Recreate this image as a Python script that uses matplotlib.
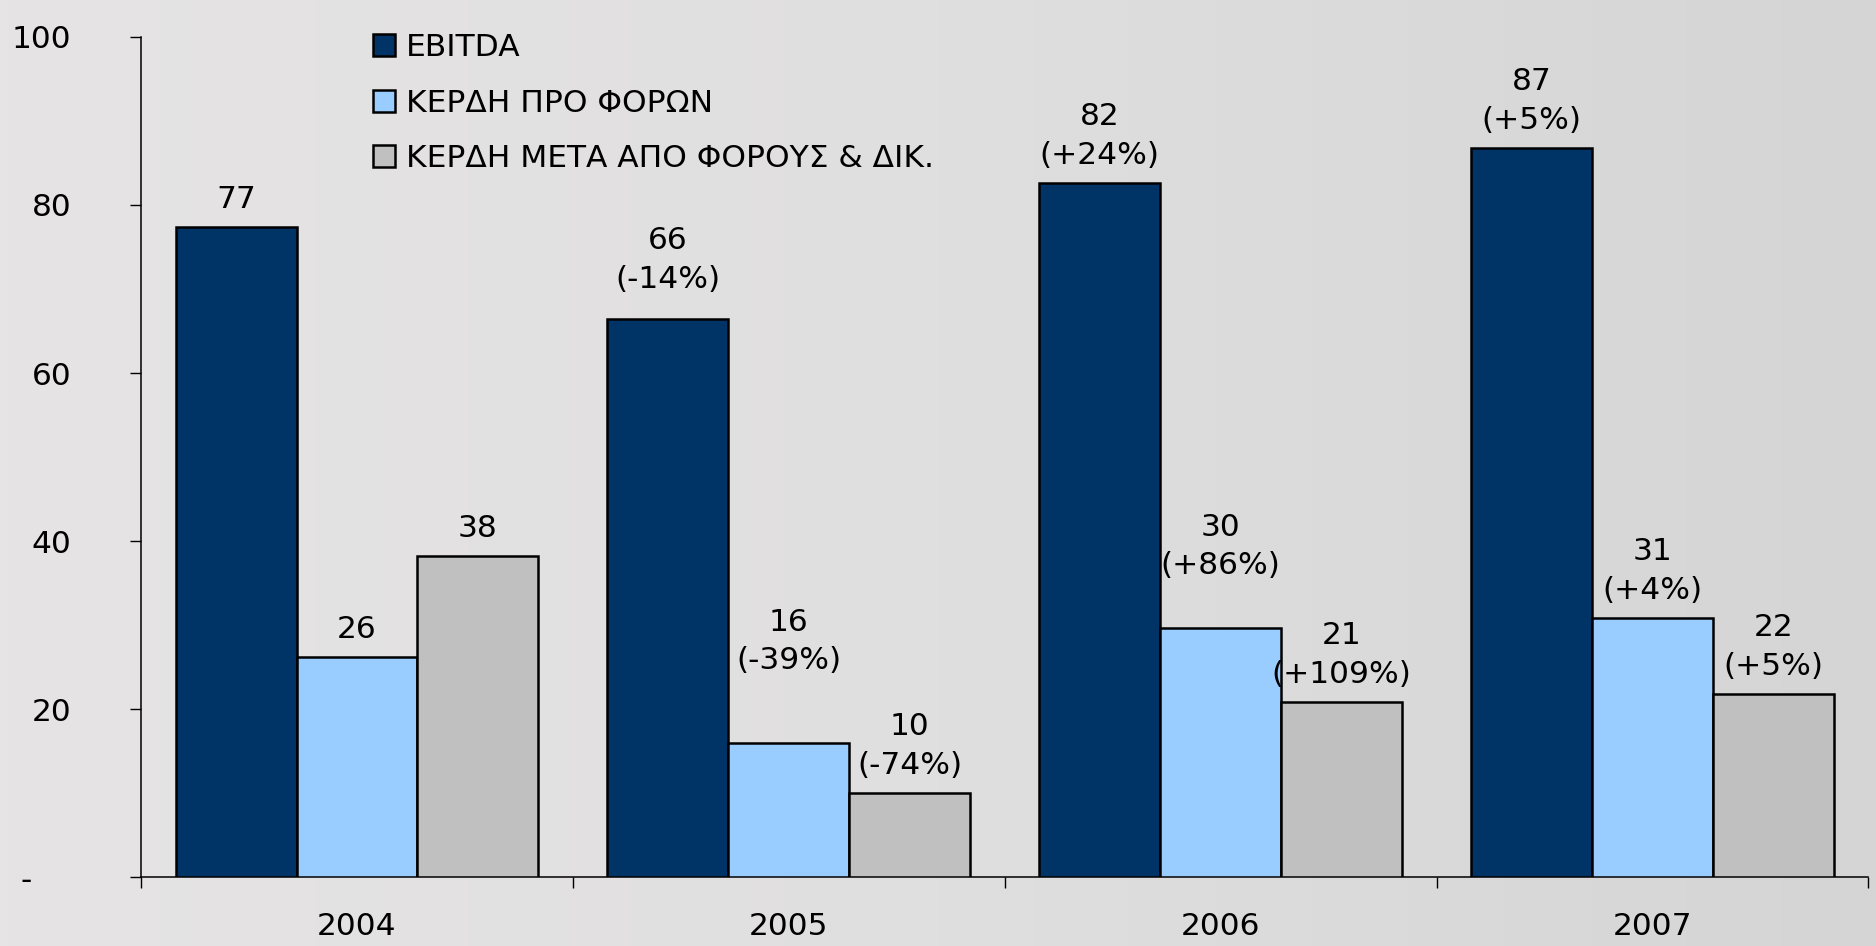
import matplotlib
matplotlib.use("Agg")
import matplotlib.pyplot as plt
from matplotlib.patches import Patch
import numpy as np

# data
years = ['2004', '2005', '2006', '2007']
series_names = ['EBITDA', 'ΚΕΡΔΗ ΠΡΟ ΦΟΡΩΝ', 'ΚΕΡΔΗ ΜΕΤΑ ΑΠΟ ΦΟΡΟΥΣ & ΔΙΚ.']
ebitda = [77.4, 66.4, 82.6, 86.8]
pre_tax = [26.2, 16.0, 29.6, 30.8]
after_tax = [38.2, 10.0, 20.8, 21.8]
ebitda_labels = ['77', '66\n(-14%)', '82\n(+24%)', '87\n(+5%)']
pre_tax_labels = ['26', '16\n(-39%)', '30\n(+86%)', '31\n(+4%)']
after_tax_labels = ['38', '10\n(-74%)', '21\n(+109%)', '22\n(+5%)']
y_ticks = [0, 20, 40, 60, 80, 100]
y_ticklabels = ['-    ', '20', '40', '60', '80', '100']

colors = ['#003366', '#99ccff', '#c0c0c0']
# extra lift (points) for labels that were moved by hand in the original, key = (year, series)
label_nudge = {(1, 0): 9, (1, 1): 39, (2, 1): 25}

plt.rcParams['font.family'] = ['DejaVu Sans']
FS = 22.5

fig = plt.figure(figsize=(18.76, 9.46), dpi=100)

# textured-looking gray backdrop: simple left-to-right gradient
bg = fig.add_axes([0, 0, 1, 1], zorder=-10)
grad = np.linspace(0, 1, 256)[None, :]
bg.imshow(grad, aspect='auto', cmap=matplotlib.colors.LinearSegmentedColormap.from_list(
    'bg', ['#e6e4e4', '#e0dfdf', '#d5d5d5']), extent=[0, 1, 0, 1])
bg.axis('off')

ax = fig.add_axes([0.0752, 0.0729, 0.9208, 0.8880])
ax.patch.set_alpha(0)

x = np.arange(len(years))
w = 0.28
all_vals = [ebitda, pre_tax, after_tax]
all_labels = [ebitda_labels, pre_tax_labels, after_tax_labels]
for s, (vals, labs) in enumerate(zip(all_vals, all_labels)):
    pos = x + (s - 1) * w
    ax.bar(pos, vals, width=w, color=colors[s], edgecolor='black', linewidth=1.8, zorder=3)
    for i, (p, v, t) in enumerate(zip(pos, vals, labs)):
        off = 9.5 + label_nudge.get((i, s), 0)
        ax.annotate(t, (p, v), xytext=(0, off), textcoords='offset points',
                    ha='center', va='bottom', fontsize=FS, linespacing=1.42, zorder=4)

ax.set_xlim(-0.5, len(years) - 0.5)
ax.set_ylim(0, 100)
ax.set_yticks(y_ticks)
ax.set_yticklabels(y_ticklabels, fontsize=FS)
ax.tick_params(axis='y', direction='out', length=8, width=1, pad=42)

ax.set_xticks(x)
ax.set_xticklabels(years, fontsize=FS)
ax.set_xticks(np.arange(len(years) + 1) - 0.5, minor=True)
ax.tick_params(axis='x', which='major', length=0, pad=25)
ax.tick_params(axis='x', which='minor', direction='out', length=8, width=1)

for sp in ['top', 'right']:
    ax.spines[sp].set_visible(False)
for sp in ['left', 'bottom']:
    ax.spines[sp].set_linewidth(1.1)

handles = [Patch(facecolor=c, edgecolor='black', linewidth=1.8) for c in colors]
fig.legend(handles, series_names, loc='upper left', bbox_to_anchor=(0.199, 0.965),
           frameon=False, fontsize=FS, handlelength=0.7, handleheight=0.7,
           handletextpad=0.35, labelspacing=0.85, borderpad=0, borderaxespad=0)

fig.savefig('out.png', dpi=100)
